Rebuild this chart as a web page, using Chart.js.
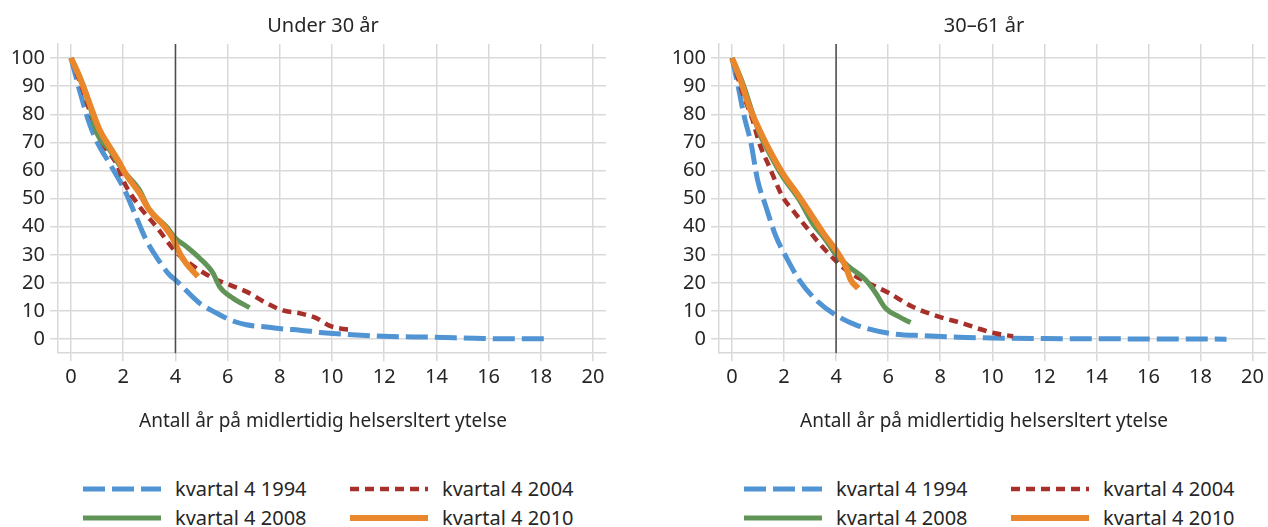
<!DOCTYPE html>
<html>
<head>
<meta charset="utf-8">
<script src="https://cdn.jsdelivr.net/npm/chart.js@4/dist/chart.umd.min.js"></script>
<style>
  body { margin: 0; background: #fff; width: 1268px; height: 527px; position: relative; overflow: hidden;
         font-family: "Noto Sans", sans-serif; color: #262626; }
  .box { position: absolute; top: 0; height: 445px; }
  #boxA { left: 0; width: 634px; }
  #boxB { left: 661px; width: 607px; }
  .legend { position: absolute; top: 474px; display: grid; grid-template-columns: 267px 267px; }
  .item { display: flex; align-items: center; height: 29px; font-size: 20px; white-space: nowrap; }
  .item svg { margin-right: 14px; }
</style>
</head>
<body>
<div class="box" id="boxA"><canvas id="chartA"></canvas></div>
<div class="box" id="boxB"><canvas id="chartB"></canvas></div>
<div class="legend" id="legendA" style="left:83px"></div>
<div class="legend" id="legendB" style="left:744px"></div>
<script>
// x = years on benefit, y = share still on benefit (%)
const X_TICKS = [0, 2, 4, 6, 8, 10, 12, 14, 16, 18, 20];
const Y_TICKS = [0, 10, 20, 30, 40, 50, 60, 70, 80, 90, 100];
const CUTOFF_YEAR = 4;
const X_TITLE = "Antall år på midlertidig helsersltert ytelse";

const SERIES_NAMES = ["kvartal 4 1994", "kvartal 4 2004", "kvartal 4 2008", "kvartal 4 2010"];
const SERIES_COLORS = ["#5094d3", "#a8302a", "#619457", "#e8872c"];

// Under 30 år
const under30_1994 = [[0,100],[0.32,88.7],[0.7,76.8],[1.02,69.7],[1.47,62.6],[2.05,53.1],[2.49,43.6],[2.88,35.3],
  [3.26,29.4],[3.77,22.9],[4,21.1],[4.93,12.8],[5.57,9.3],[6.08,6.9],[6.72,5.1],[7.49,4.3],[8.12,3.6],[8.77,3.2],
  [9.53,2.4],[10.04,2.0],[11.96,1.0],[13.9,0.7],[15.8,0.2],[18.17,0.1]];
const under30_2004 = [[0,100],[0.45,88.7],[0.83,78],[1.21,69.7],[1.73,62.6],[2.05,55.5],[2.62,47.2],[3.26,40.1],
  [4,31.2],[4.54,27],[5.44,21.7],[6.08,19.3],[6.72,16.9],[7.49,12.8],[8.12,10.2],[8.77,9.2],[9.4,7.5],[9.9,4.8],
  [10.43,3.6],[10.8,3.3]];
const under30_2008 = [[0,100],[0.32,93.5],[0.7,84],[0.96,74],[1.47,67.4],[1.98,60.2],[2.62,53.1],[3,46],[3.65,40.1],
  [4,35.9],[4.41,33],[4.93,28.8],[5.44,23.5],[5.69,18.7],[6.2,14.6],[6.84,11.2]];
const under30_2010 = [[0,100],[0.32,93.5],[0.7,84],[1.09,74.5],[1.47,68.5],[1.79,63.8],[2.11,58.5],[2.62,52],[3,46],
  [3.58,40.1],[3.9,35.9],[4.16,30.6],[4.41,27],[4.86,22.3]];

// 30–61 år
const age30to61_1994 = [[0,100],[0.21,91.1],[0.47,79.2],[0.73,69.7],[0.98,56.7],[1.3,47.2],[1.69,36.5],[2.07,29.4],
  [2.58,21.1],[3.22,14],[3.98,8.6],[4.75,5.1],[6.03,2.1],[7.43,1.2],[8.7,0.7],[9.98,0.4],[12,0.2],[15,0.1],[19,0]];
const age30to61_2004 = [[0,100],[0.41,87.5],[0.79,78],[1.05,69.7],[1.43,61.4],[1.94,50.7],[2.32,46],[2.83,40.1],
  [3.34,34.2],[3.95,28.2],[4.37,24.7],[5.13,20.5],[6.03,16.4],[6.92,11.6],[7.94,8],[8.84,5.7],[9.48,3.7],
  [10.1,2.1],[10.8,1.0]];
const age30to61_2008 = [[0,100],[0.41,91.1],[0.79,80.4],[1.05,73.3],[1.43,66.2],[1.94,57.9],[2.58,49.6],[3.09,41.3],
  [3.6,35.3],[3.95,30.6],[4.49,25.8],[5.13,21.1],[5.52,16.4],[5.9,11],[6.41,8],[6.86,5.9]];
const age30to61_2010 = [[0,100],[0.28,93.5],[0.66,82.8],[1.05,74.5],[1.43,67.4],[1.94,59.1],[2.58,50.7],[3.09,43.6],
  [3.6,36.5],[3.98,31.8],[4.37,25.8],[4.56,21.1],[4.85,18.1]];

const LINE_STYLES = [
  { width: 5, dash: [22, 7] },
  { width: 4.5, dash: [9, 6] },
  { width: 5, dash: [] },
  { width: 6, dash: [] }
];
const DRAW_ORDER = [3, 2, 1, 0]; // lower draws on top

const TEXT = "#262626";
const GRID = "#d9d9d9";

const cutoffLine = {
  id: "cutoffLine",
  afterDatasetsDraw(chart) {
    const { ctx, chartArea, scales } = chart;
    const x = scales.x.getPixelForValue(CUTOFF_YEAR);
    ctx.save();
    ctx.strokeStyle = "#4d4d4d";
    ctx.lineWidth = 1.5;
    ctx.beginPath();
    ctx.moveTo(x, chartArea.top);
    ctx.lineTo(x, chartArea.bottom);
    ctx.stroke();
    ctx.restore();
  }
};

// y labels sit in the left padding, so let the label clip box start at the canvas edge
const labelRoom = {
  id: "labelRoom",
  afterLayout(chart) {
    chart.scales.y.left = 0;
  }
};

function makeChart(id, title, seriesData, padRight) {
  const datasets = seriesData.map((data, i) => ({
    label: SERIES_NAMES[i],
    data: data,
    borderColor: SERIES_COLORS[i],
    borderWidth: LINE_STYLES[i].width,
    borderDash: LINE_STYLES[i].dash,
    pointRadius: 0,
    cubicInterpolationMode: "monotone",
    order: DRAW_ORDER[i],
    fill: false
  }));

  return new Chart(document.getElementById(id), {
    type: "line",
    data: { datasets },
    plugins: [cutoffLine, labelRoom],
    options: {
      responsive: true,
      maintainAspectRatio: false,
      animation: false,
      layout: { padding: { left: 40, right: padRight, top: 0, bottom: 12 } },
      plugins: {
        legend: { display: false },
        tooltip: { enabled: false },
        title: {
          display: true,
          text: title,
          color: TEXT,
          font: { family: "Noto Sans", size: 20, weight: "normal" },
          padding: { top: 14, bottom: 6 }
        },
        subtitle: {
          display: true,
          position: "bottom",
          text: X_TITLE,
          color: TEXT,
          font: { family: "Noto Sans", size: 19, weight: "normal" },
          padding: { top: 17, bottom: 0 }
        }
      },
      scales: {
        x: {
          type: "linear",
          min: -0.5,
          max: 20.5,
          afterBuildTicks: (s) => { s.ticks = X_TICKS.map((v) => ({ value: v })); },
          grid: { color: GRID, lineWidth: 1.5, tickLength: 8 },
          border: { display: true, color: GRID, width: 1.5 },
          ticks: { color: TEXT, padding: 4, maxRotation: 0, font: { family: "Noto Sans", size: 20 } }
        },
        y: {
          type: "linear",
          min: -5,
          max: 105,
          afterBuildTicks: (s) => { s.ticks = Y_TICKS.map((v) => ({ value: v })); },
          afterFit: (s) => { s.width = 18; },
          grid: { color: GRID, lineWidth: 1.5, tickLength: 8 },
          border: { display: true, color: GRID, width: 1.5 },
          ticks: { color: TEXT, padding: 5, font: { family: "Noto Sans", size: 20 } }
        }
      }
    }
  });
}

function makeLegend(id) {
  const box = document.getElementById(id);
  SERIES_NAMES.forEach((name, i) => {
    const item = document.createElement("div");
    item.className = "item";
    const st = LINE_STYLES[i];
    item.innerHTML =
      '<svg width="78" height="10"><line x1="0" y1="5" x2="78" y2="5" stroke="' + SERIES_COLORS[i] +
      '" stroke-width="' + st.width + '" stroke-dasharray="' + (st.dash.length ? st.dash.join(" ") : "none") +
      '"/></svg><span>' + name + "</span>";
    box.appendChild(item);
  });
}

makeChart("chartA", "Under 30 år", [under30_1994, under30_2004, under30_2008, under30_2010], 28);
makeChart("chartB", "30–61 år", [age30to61_1994, age30to61_2004, age30to61_2008, age30to61_2010], 1);
makeLegend("legendA");
makeLegend("legendB");
</script>
</body>
</html>
